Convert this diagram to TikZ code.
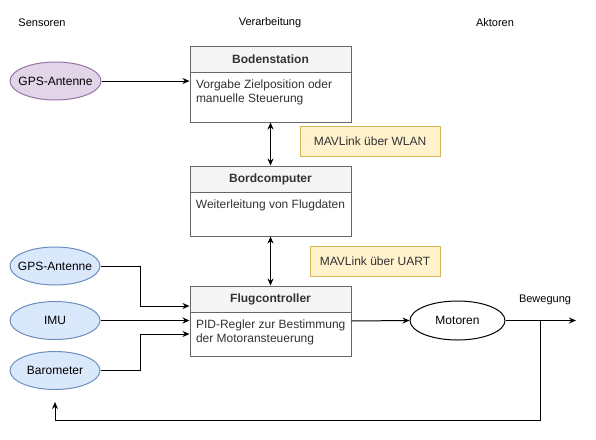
\documentclass[tikz,border=0pt]{standalone}
\usepackage{fontspec}
\setmainfont{Liberation Sans}
\usepackage{xcolor}
\usetikzlibrary{shapes.geometric,arrows.meta}
\definecolor{lila}{HTML}{E1D5E7}
\definecolor{lilarand}{HTML}{9673A6}
\definecolor{blau}{HTML}{DAE8FC}
\definecolor{blaurand}{HTML}{6C8EBF}
\definecolor{gelb}{HTML}{FFF2CC}
\definecolor{gelbrand}{HTML}{D6B656}
\definecolor{kopf}{HTML}{F5F5F5}
\definecolor{rand}{HTML}{666666}
\definecolor{schrift}{HTML}{333333}

\begin{document}
\begin{tikzpicture}[x=1pt,y=-1pt,>={Stealth[length=7pt,width=6pt]},line width=1pt,
    font=\fontsize{12}{14}\selectfont,
    sensor/.style={ellipse,draw=blaurand,fill=blau,minimum width=90pt,minimum height=38pt,inner xsep=-6pt,inner ysep=0pt},
    aktor/.style={ellipse,draw=black,fill=white,minimum width=95pt,minimum height=39pt,inner sep=0pt},
    box/.style={rectangle,draw=rand,fill=white,minimum width=161pt,minimum height=70pt,inner sep=0pt},
    kopfbox/.style={rectangle,draw=rand,fill=kopf,minimum width=161pt,minimum height=26pt,inner sep=0pt,font=\fontsize{12}{14}\selectfont\bfseries,text=schrift},
    inhalt/.style={align=left,inner sep=0pt,anchor=north west,text=schrift},
    notiz/.style={rectangle,draw=gelbrand,fill=gelb,minimum height=30pt,inner sep=0pt,text=schrift},
    titel/.style={inner sep=0pt,font=\fontsize{11}{13}\selectfont}]
    \useasboundingbox (0,0) rectangle (596,439);

    % Spaltenueberschriften
    \node[titel] (sens) at (42,23) {Sensoren};
    \node[titel] (verarb) at (270,23) {Verarbeitung};
    \node[titel] (akt) at (495,23) {Aktoren};

    % Bodenstation
    \node[box,minimum height=76pt] (boden) at (270.5,84) {};
    \node[kopfbox,anchor=north] (bodenkopf) at (boden.north) {Bodenstation};
    \node[inhalt] (bodentext) at ([xshift=6pt,yshift=-7pt]bodenkopf.south west) {Vorgabe Zielposition oder\\manuelle Steuerung};
    \node[sensor,draw=lilarand,fill=lila,minimum width=91pt] (gps1) at (55.5,81) {GPS-Antenne};

    % Bordcomputer
    \node[box] (bord) at (270.5,201) {};
    \node[kopfbox,anchor=north] (bordkopf) at (bord.north) {Bordcomputer};
    \node[inhalt,anchor=north] (bordtext) at ([yshift=-7pt]bordkopf.south) {Weiterleitung von Flugdaten};
    \node[notiz,minimum width=140pt] (wlan) at (370,141) {MAVLink über WLAN};

    % Flugcontroller
    \node[box] (fc) at (270.5,321) {};
    \node[kopfbox,anchor=north] (fckopf) at (fc.north) {Flugcontroller};
    \node[inhalt] (fctext) at ([xshift=6pt,yshift=-7pt]fckopf.south west) {PID-Regler zur Bestimmung\\der Motoransteuerung};
    \node[notiz,minimum width=130pt] (uart) at (375,261) {MAVLink über UART};

    % Sensoren
    \node[sensor] (gps2) at (55,266) {GPS-Antenne};
    \node[sensor] (imu) at (55,320.5) {IMU};
    \node[sensor] (baro) at (55,370.5) {Barometer};

    % Aktoren
    \node[aktor] (motor) at (457.5,320.5) {Motoren};
    \node[titel] (beweg) at (545,300) {Bewegung};
    \coordinate (ausgang) at (576,320.5);
    \coordinate (abzweig) at (540,320.5);
    \coordinate (unten) at (540,420);

    \draw[->] (gps1.east) -- (gps1.east -| boden.west);
    \draw[<->] (boden.south) -- (bord.north);
    \draw[<->] (bord.south) -- (fc.north);

    \draw[->] (gps2.east) -- ++(40,0) |- ([yshift=15pt]fc.west);
    \draw[->] (imu.east) -- (imu.east -| fc.west);
    \draw[->] (baro.east) -- ++(40,0) |- ([yshift=-13pt]fc.west);

    \draw[->] (fc.east) -- (motor.west);
    \draw[->] (motor.east) -- (ausgang);
    \draw[->] (abzweig) -- (unten) -| ([yshift=-12pt]baro.south);
\end{tikzpicture}
\end{document}
